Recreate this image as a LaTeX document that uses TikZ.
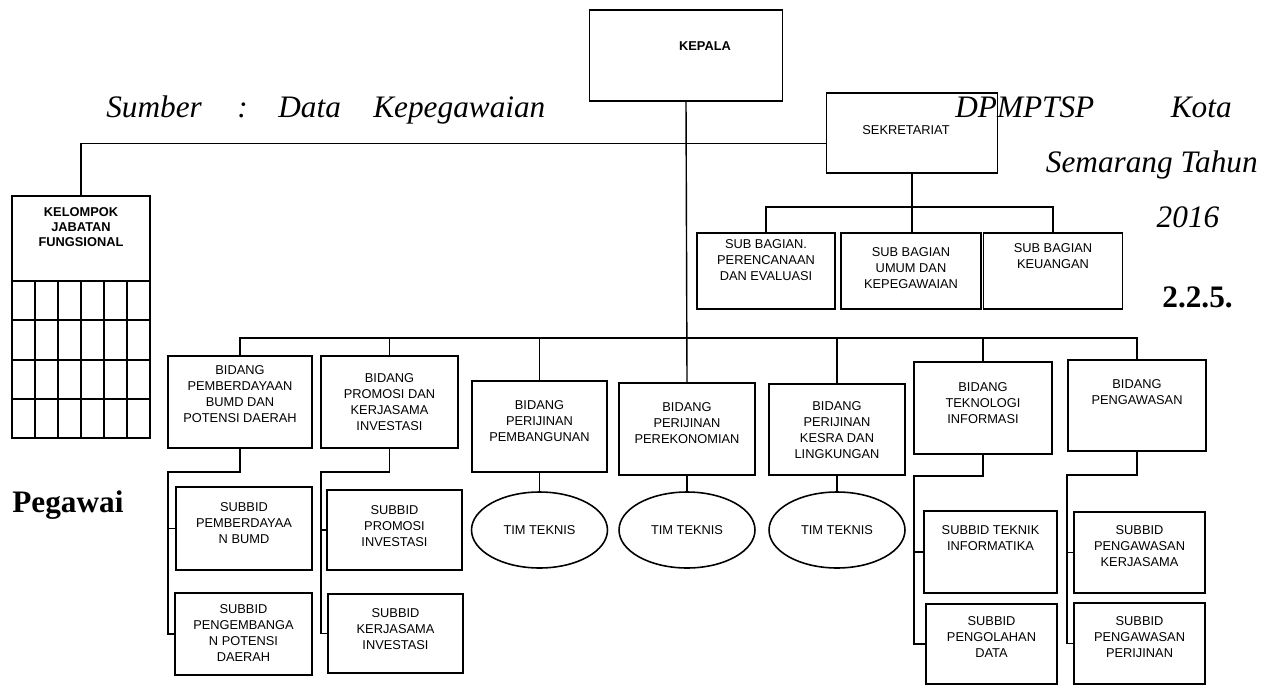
\documentclass[tikz,border=0pt]{standalone}
\usepackage{fontspec}
\setmainfont{Liberation Serif}
\newfontfamily\arial{Liberation Sans}
\usetikzlibrary{shapes.geometric,positioning}
\tikzset{
  box/.style={draw,line width=0.9pt,rectangle,inner sep=0pt},
  txt/.style={font=\arial\fontsize{7.3}{9}\selectfont,align=center,inner sep=0pt},
  btxt/.style={font=\arial\bfseries\fontsize{7.3}{8.4}\selectfont,align=center,inner sep=0pt},
  tim/.style={draw,line width=0.9pt,ellipse,minimum width=2.72cm,minimum height=1.52cm,inner sep=0pt,font=\arial\fontsize{7.3}{9}\selectfont},
  link/.style={line width=0.8pt},
  busline/.style={line width=1.6pt},
  ket/.style={font=\fontsize{17.8}{21}\selectfont\itshape,inner sep=0pt},
  judul/.style={font=\fontsize{17.8}{21}\selectfont\bfseries,inner sep=0pt},
}

\begin{document}
\begin{tikzpicture}[x=0.02cm,y=-0.02cm]
    \useasboundingbox (0,0) rectangle (1270,686);

    % kepala and sekretariat
    \node[box,minimum width=3.86cm,minimum height=1.82cm] (kepala) at (686,55.5) {};
    \node[btxt] (kepala-t) at (705,46) {KEPALA};
    \node[box,minimum width=3.42cm,minimum height=1.6cm] (sekr) at (912,133) {};
    \node[txt] (sekr-t) at (906,130) {SEKRETARIAT};

    % kelompok jabatan fungsional with its grid
    \node[box,line width=1.1pt,minimum width=2.76cm,minimum height=4.84cm] (kel) at (81,317) {};
    \node[btxt] (kel-t) at (81,227) {KELOMPOK\\JABATAN\\FUNGSIONAL};
    \foreach \y in {281,320,360,399}
        \draw[line width=1.1pt] (12,\y) -- (150,\y);
    \foreach \x in {35,58,81,104,127}
        \draw[line width=1.1pt] (\x,281) -- (\x,438);

    % sub bagian of sekretariat
    \node[box,minimum width=2.76cm,minimum height=1.52cm] (sbperenc) at (766,271) {};
    \node[txt] (sbperenc-t) at (766,260) {SUB BAGIAN.\\PERENCANAAN\\DAN EVALUASI};
    \node[box,minimum width=2.8cm,minimum height=1.52cm] (sbumum) at (911,271) {};
    \node[txt] (sbumum-t) at (911,268) {SUB BAGIAN\\UMUM DAN\\KEPEGAWAIAN};
    \node[box,minimum width=2.78cm,minimum height=1.52cm] (sbkeu) at (1053,271) {};
    \node[txt] (sbkeu-t) at (1053,256) {SUB BAGIAN\\KEUANGAN};

    % bidang row
    \node[box,minimum width=2.88cm,minimum height=1.84cm] (bpemb) at (240,402) {};
    \node[txt] (bpemb-t) at (240,394) {BIDANG\\PEMBERDAYAAN\\BUMD DAN\\POTENSI DAERAH};
    \node[box,minimum width=2.74cm,minimum height=1.84cm] (bprom) at (389.5,402) {};
    \node[txt] (bprom-t) at (389.5,402) {BIDANG\\PROMOSI DAN\\KERJASAMA\\INVESTASI};
    \node[box,minimum width=2.7cm,minimum height=1.82cm] (bbang) at (539.5,426.5) {};
    \node[txt] (bbang-t) at (539.5,421) {BIDANG\\PERIJINAN\\PEMBANGUNAN};
    \node[box,minimum width=2.72cm,minimum height=1.84cm] (bekon) at (687,429) {};
    \node[txt] (bekon-t) at (687,423) {BIDANG\\PERIJINAN\\PEREKONOMIAN};
    \node[box,minimum width=2.72cm,minimum height=1.82cm] (bkesra) at (837,429.5) {};
    \node[txt] (bkesra-t) at (837,430) {BIDANG\\PERIJINAN\\KESRA DAN\\LINGKUNGAN};
    \node[box,minimum width=2.76cm,minimum height=1.84cm] (btek) at (983,408) {};
    \node[txt] (btek-t) at (983,403) {BIDANG\\TEKNOLOGI\\INFORMASI};
    \node[box,minimum width=2.76cm,minimum height=1.82cm] (bwas) at (1137,405.5) {};
    \node[txt] (bwas-t) at (1137,392) {BIDANG\\PENGAWASAN};

    % tim teknis
    \node[tim] (tim1) at (539.5,530) {TIM TEKNIS};
    \node[tim] (tim2) at (687,530) {TIM TEKNIS};
    \node[tim] (tim3) at (837,530) {TIM TEKNIS};

    % subbid boxes
    \node[box,minimum width=2.72cm,minimum height=1.66cm] (spemb) at (244,528.5) {};
    \node[txt] (spemb-t) at (244,523) {SUBBID\\PEMBERDAYAA\\N BUMD};
    \node[box,minimum width=2.74cm,minimum height=1.64cm] (spengem) at (243.5,634) {};
    \node[txt] (spengem-t) at (243.5,633) {SUBBID\\PENGEMBANGA\\N POTENSI\\DAERAH};
    \node[box,minimum width=2.7cm,minimum height=1.6cm] (sprom) at (394.5,530) {};
    \node[txt] (sprom-t) at (394.5,526) {SUBBID\\PROMOSI\\INVESTASI};
    \node[box,minimum width=2.7cm,minimum height=1.58cm] (skerja) at (395.5,633.5) {};
    \node[txt] (skerja-t) at (395.5,629) {SUBBID\\KERJASAMA\\INVESTASI};
    \node[box,minimum width=2.66cm,minimum height=1.64cm] (stekinf) at (990.5,552) {};
    \node[txt] (stekinf-t) at (990.5,538) {SUBBID TEKNIK\\INFORMATIKA};
    \node[box,minimum width=2.62cm,minimum height=1.6cm] (solah) at (991.5,644) {};
    \node[txt] (solah-t) at (991.5,637) {SUBBID\\PENGOLAHAN\\DATA};
    \node[box,minimum width=2.62cm,minimum height=1.62cm] (swaskerja) at (1139.5,552.5) {};
    \node[txt] (swaskerja-t) at (1139.5,546) {SUBBID\\PENGAWASAN\\KERJASAMA};
    \node[box,minimum width=2.62cm,minimum height=1.62cm] (swasijin) at (1139.5,643.5) {};
    \node[txt] (swasijin-t) at (1139.5,637) {SUBBID\\PENGAWASAN\\PERIJINAN};

    % lines from kepala
    \draw[link] (kepala.south) -- (bekon.north);
    \draw[link] (kel.north) |- ([yshift=-6pt]sekr.west);

    % sekretariat to its sub bagian
    \coordinate (sbus) at (912,207);
    \draw[link] (sekr.south) -- (sbus);
    \draw[link] (sbperenc.north) |- (sbus) -| (sbkeu.north);
    \draw[link] (sbus) -- (sbus |- sbumum.north);

    % the long bus to every bidang
    \coordinate (bus) at (686,338);
    \draw[link,line width=1pt] (bpemb.north) |- (bus);
    \draw[busline] (bus) -| (bwas.north);
    \foreach \n in {bprom,bbang,bkesra,btek}
        \draw[link] (\n.north) -- (\n.north |- bus);

    % bidang to tim teknis
    \foreach \b/\t in {bbang/tim1,bekon/tim2,bkesra/tim3}
        \draw[link] (\b.south) -- (\t.north);

    % bidang to subbid
    \coordinate (sp1) at (168,472);
    \coordinate (sp2) at (321,472);
    \coordinate (sp3) at (914,476);
    \coordinate (sp4) at (1067,475);
    \draw[link] (bpemb.south) |- (sp1) |- (spengem.west);
    \draw[link] (sp1 |- spemb.west) -- (spemb.west);
    \draw[link] (bprom.south) |- (sp2) |- (skerja.west);
    \draw[link] (sp2 |- sprom.west) -- (sprom.west);
    \draw[link] (btek.south) |- (sp3) |- (solah.west);
    \draw[link] (sp3 |- stekinf.west) -- (stekinf.west);
    \draw[link] (bwas.south) |- (sp4) |- (swasijin.west);
    \draw[link] (sp4 |- swaskerja.west) -- (swaskerja.west);

    % the running text round the chart
    \node[ket,anchor=base west] (sumber) at (106,117) {Sumber};
    \node[ket,anchor=base west] (colon) at (237,117) {:};
    \node[ket,anchor=base west] (data) at (278,117) {Data};
    \node[ket,anchor=base west] (kepeg) at (373,117) {Kepegawaian};
    \node[ket,anchor=base west] (dpm) at (955,117) {DPMPTSP};
    \node[ket,anchor=base east] (kota) at (1232,117) {Kota};
    \node[ket,anchor=base east] (smg) at (1258,172) {Semarang Tahun};
    \node[ket,anchor=base] (tahun) at (1188,227) {2016};
    \node[judul,anchor=base west] (bab) at (1162,307) {2.2.5.};
    \node[judul,anchor=base west] (pegawai) at (12,512) {Pegawai};
\end{tikzpicture}
\end{document}
